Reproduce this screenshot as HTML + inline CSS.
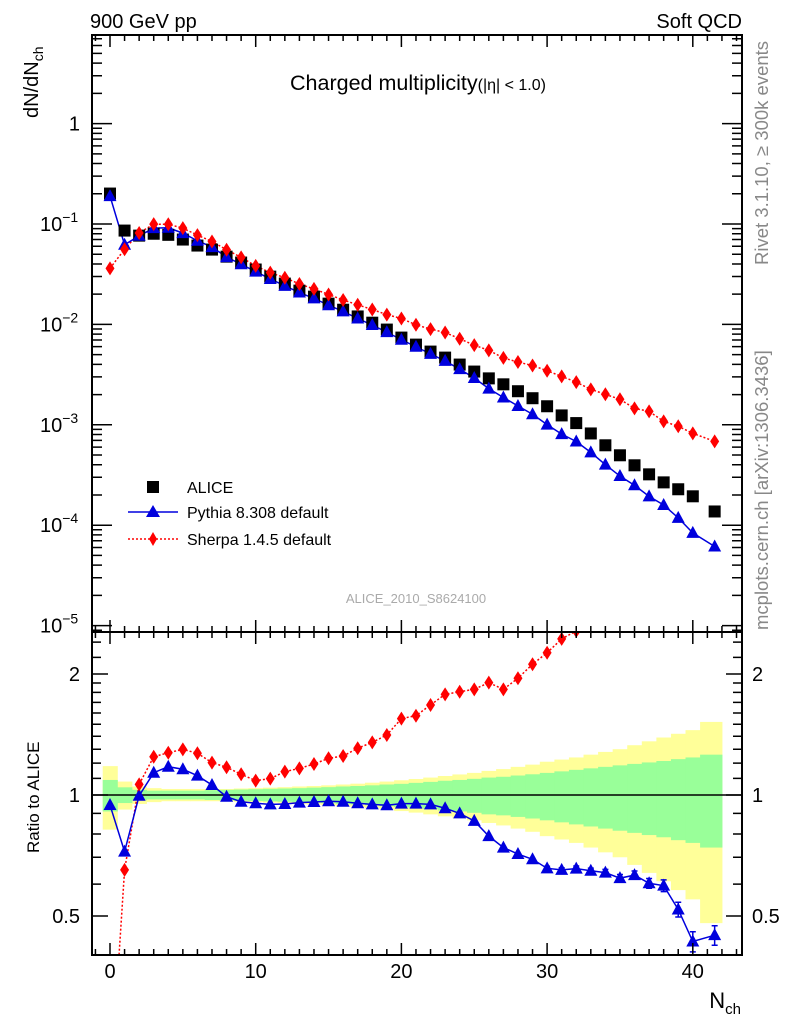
<!DOCTYPE html>
<html><head><meta charset="utf-8"><style>
html,body{margin:0;padding:0;background:#fff;width:786px;height:1024px;overflow:hidden;}
svg{display:block;font-family:"Liberation Sans",sans-serif;}
</style></head><body>
<svg id="chart" width="786" height="1024" viewBox="0 0 786 1024" xmlns="http://www.w3.org/2000/svg">
<defs>
<clipPath id="clipMain"><rect x="92" y="35" width="650" height="597"/></clipPath>
<clipPath id="clipRatio"><rect x="92" y="632" width="650" height="323"/></clipPath>
</defs>
<g id="bandLayer" clip-path="url(#clipRatio)"></g>
<g id="marks"></g>
<g id="axes"></g>
<text x="90" y="28" font-size="20">900 GeV pp</text>
<text x="742" y="28" font-size="20" text-anchor="end">Soft QCD</text>
<text x="418" y="90" font-size="21.5" text-anchor="middle">Charged multiplicity<tspan font-size="16">(|η| &lt; 1.0)</tspan></text>
<text transform="translate(38,118) rotate(-90)" font-size="20">dN/dN<tspan font-size="14" dy="5">ch</tspan></text>
<text transform="translate(39,853) rotate(-90)" font-size="17">Ratio to ALICE</text>
<text x="741" y="1008" font-size="22" text-anchor="end">N<tspan font-size="15" dy="6">ch</tspan></text>
<text transform="translate(768,265) rotate(-90)" font-size="18.5" fill="#888">Rivet 3.1.10, ≥ 300k events</text>
<text transform="translate(768,630) rotate(-90)" font-size="18.5" fill="#888">mcplots.cern.ch [arXiv:1306.3436]</text>
<text x="416" y="603" font-size="13" fill="#aaa" text-anchor="middle">ALICE_2010_S8624100</text>
<g>
<rect x="147" y="481" width="12" height="12" fill="#000"/>
<text x="187" y="493" font-size="16">ALICE</text>
<line x1="128" y1="512" x2="178" y2="512" stroke="#0000dd" stroke-width="1.5"/>
<polygon points="153,505 160,517 146,517" fill="#0000dd"/>
<text x="187" y="518" font-size="16">Pythia 8.308 default</text>
<line x1="128" y1="539" x2="178" y2="539" stroke="#f00" stroke-width="1.5" stroke-dasharray="2,2"/>
<polygon points="153,532 157,539 153,546 149,539" fill="#f00"/>
<text x="187" y="545" font-size="16">Sherpa 1.4.5 default</text>
</g>
</svg>
<script>
const nch = [0,1,2,3,4,5,6,7,8,9,10,11,12,13,14,15,16,17,18,19,20,21,22,23,24,25,26,27,28,29,30,31,32,33,34,35,36,37,38,39,40,41.5];
const binLo = [-0.5,0.5,1.5,2.5,3.5,4.5,5.5,6.5,7.5,8.5,9.5,10.5,11.5,12.5,13.5,14.5,15.5,16.5,17.5,18.5,19.5,20.5,21.5,22.5,23.5,24.5,25.5,26.5,27.5,28.5,29.5,30.5,31.5,32.5,33.5,34.5,35.5,36.5,37.5,38.5,39.5,40.5];
const binHi = [0.5,1.5,2.5,3.5,4.5,5.5,6.5,7.5,8.5,9.5,10.5,11.5,12.5,13.5,14.5,15.5,16.5,17.5,18.5,19.5,20.5,21.5,22.5,23.5,24.5,25.5,26.5,27.5,28.5,29.5,30.5,31.5,32.5,33.5,34.5,35.5,36.5,37.5,38.5,39.5,40.5,42];
const alice = [0.201,0.086,0.0766,0.080,0.078,0.070,0.061,0.0556,0.0473,0.0413,0.0352,0.0299,0.0255,0.0217,0.0189,0.0161,0.0140,0.0120,0.0104,0.00888,0.00739,0.00629,0.00536,0.00467,0.00398,0.00339,0.00290,0.00253,0.00216,0.00184,0.00153,0.00124,0.00104,0.00082,0.000625,0.000497,0.000395,0.000321,0.000267,0.000228,0.000194,0.000137];
const pythiaRatio = [0.944,0.723,0.996,1.136,1.176,1.159,1.117,1.059,0.99,0.962,0.954,0.948,0.95,0.957,0.961,0.965,0.962,0.954,0.948,0.943,0.952,0.952,0.948,0.927,0.900,0.862,0.79,0.74,0.713,0.692,0.657,0.651,0.656,0.648,0.641,0.621,0.632,0.603,0.595,0.519,0.432,0.448];
const pythiaErr = [0,0,0,0,0,0,0,0,0,0,0,0,0,0,0,0,0,0,0,0,0,0,0,0,0,0,0,0,0,0,0.008,0.008,0.01,0.01,0.012,0.013,0.015,0.017,0.02,0.022,0.025,0.025];
const sherpaRatio = [0.18,0.651,1.063,1.245,1.274,1.299,1.270,1.204,1.172,1.126,1.086,1.098,1.143,1.165,1.194,1.234,1.250,1.307,1.352,1.410,1.549,1.575,1.675,1.780,1.807,1.832,1.903,1.832,1.952,2.115,2.259,2.445,2.56,2.75,3.22,3.61,3.69,4.24,4.05,4.24,4.24,4.99];
const errTot = [0.18,0.08,0.05,0.04,0.035,0.035,0.035,0.035,0.035,0.038,0.04,0.043,0.046,0.05,0.053,0.057,0.062,0.067,0.073,0.08,0.088,0.096,0.105,0.115,0.125,0.135,0.148,0.16,0.175,0.19,0.21,0.225,0.24,0.26,0.28,0.30,0.33,0.36,0.39,0.42,0.45,0.52];
const errStat = [0.09,0.045,0.03,0.025,0.025,0.025,0.025,0.028,0.03,0.032,0.034,0.036,0.038,0.04,0.043,0.046,0.05,0.053,0.057,0.062,0.066,0.072,0.078,0.085,0.09,0.097,0.105,0.11,0.118,0.126,0.135,0.145,0.155,0.165,0.175,0.185,0.195,0.205,0.215,0.228,0.24,0.26];
const xTicks = [0,10,20,30,40];
const mainTickExp = [0,-1,-2,-3,-4,-5];
const ratioTickLabels = [0.5,1,2];

const NS='http://www.w3.org/2000/svg';
const X0=92,X1=742,MT=35,MB=632,RT=632,RB=955;
const sx = n => 110 + n*14.57;
const sy = v => 123.6 - Math.log10(v)*100.4;
const ry = r => 795 - Math.log2(r)*121;
const marks=document.getElementById('marks'), axes=document.getElementById('axes'), bandLayer=document.getElementById('bandLayer');
function mk(tag, attrs, parent){const e=document.createElementNS(NS,tag);for(const k in attrs)e.setAttribute(k,attrs[k]);parent.appendChild(e);return e;}

for(let i=0;i<nch.length;i++){
  const x=sx(binLo[i]), w=sx(binHi[i])-sx(binLo[i]);
  const y1=ry(1+errTot[i]), y2=ry(1-errTot[i]);
  const b=mk('rect',{x:x,y:y1,width:w+0.5,height:y2-y1,fill:'#ffff99'},bandLayer);
  
  
}
for(let i=0;i<nch.length;i++){
  const x=sx(binLo[i]), w=sx(binHi[i])-sx(binLo[i]);
  const y1=ry(1+errStat[i]), y2=ry(1-errStat[i]);
  const b=mk('rect',{x:x,y:y1,width:w+0.5,height:y2-y1,fill:'#99ff99'},bandLayer);
  
  
}
const ref=mk('line',{x1:X0,x2:X1,y1:ry(1),y2:ry(1),stroke:'#000','stroke-width':1.5},bandLayer);



const gMain=mk('g',{'clip-path':'url(#clipMain)'},marks);
const gRatio=mk('g',{'clip-path':'url(#clipRatio)'},marks);

function tri(g,x,y,color,name){const p=mk('polygon',{points:`${x},${y-7} ${x+6.5},${y+5} ${x-6.5},${y+5}`,fill:color},g);}
function dia(g,x,y,color,name){const p=mk('polygon',{points:`${x},${y-7} ${x+4.5},${y} ${x},${y+7} ${x-4.5},${y}`,fill:color},g);}

const pyVals = alice.map((a,i)=>a*pythiaRatio[i]);
const shVals = alice.map((a,i)=>a*sherpaRatio[i]);
let l=mk('polyline',{points:nch.map((n,i)=>sx(n)+','+sy(shVals[i])).join(' '),fill:'none',stroke:'#f00','stroke-width':1.5,'stroke-dasharray':'2,2'},gMain);


l=mk('polyline',{points:nch.map((n,i)=>sx(n)+','+sy(pyVals[i])).join(' '),fill:'none',stroke:'#0000dd','stroke-width':1.5},gMain);


nch.forEach((n,i)=>{
  const r=mk('rect',{x:sx(n)-6,y:sy(alice[i])-6,width:12,height:12,fill:'#000'},gMain);
  
  
});
nch.forEach((n,i)=>{ tri(gMain,sx(n),sy(pyVals[i]),'#0000dd','pythia-point'); });
nch.forEach((n,i)=>{ dia(gMain,sx(n),sy(shVals[i]),'#f00','sherpa-point'); });

l=mk('polyline',{points:nch.map((n,i)=>sx(n)+','+ry(sherpaRatio[i])).join(' '),fill:'none',stroke:'#f00','stroke-width':1.5,'stroke-dasharray':'2,2'},gRatio);


l=mk('polyline',{points:nch.map((n,i)=>sx(n)+','+ry(pythiaRatio[i])).join(' '),fill:'none',stroke:'#0000dd','stroke-width':1.5},gRatio);


nch.forEach((n,i)=>{
  if(pythiaErr[i]>0){
    const x=sx(n),a=ry(pythiaRatio[i]+pythiaErr[i]),b=ry(pythiaRatio[i]-pythiaErr[i]);
    const e=mk('path',{d:`M${x},${a}V${b}M${x-3},${a}H${x+3}M${x-3},${b}H${x+3}`,stroke:'#0000dd','stroke-width':1.5,fill:'none'},gRatio);
    
    
  }
  tri(gRatio,sx(n),ry(pythiaRatio[i]),'#0000dd','pythia-ratio-point');
});
nch.forEach((n,i)=>{ dia(gRatio,sx(n),ry(sherpaRatio[i]),'#f00','sherpa-ratio-point'); });

let f=mk('rect',{x:X0,y:MT,width:X1-X0,height:MB-MT,fill:'none',stroke:'#000','stroke-width':2},axes);


f=mk('rect',{x:X0,y:RT,width:X1-X0,height:RB-RT,fill:'none',stroke:'#000','stroke-width':2},axes);


let d='';
for(let n=-1;n<=43;n++){
  const x=sx(n); if(x<X0||x>X1) continue;
  const L = n%10===0?12:6;
  [[MT,1],[MB,-1],[RT,1],[RB,-1]].forEach(([y,s])=>{ d+=`M${x},${y}V${y+s*L}`; });
}
for(let e=-6;e<=1;e++){
  for(let m=1;m<10;m++){
    const y=sy(m*Math.pow(10,e)); if(y<MT||y>MB) continue;
    const L=m===1?20:10;
    d+=`M${X0},${y}H${X0+L}M${X1},${y}H${X1-L}`;
  }
}
const rt=[0.4,0.5,0.6,0.7,0.8,0.9,1,1.1,1.2,1.3,1.4,1.5,1.6,1.7,1.8,1.9,2,2.2,2.4];
rt.forEach(r=>{const y=ry(r); if(y<RT||y>RB) return; const L=(r===0.5||r===1||r===2)?16:9; d+=`M${X0},${y}H${X0+L}M${X1},${y}H${X1-L}`;});
const tk=mk('path',{d:d,stroke:'#000','stroke-width':1.5,fill:'none'},axes);


xTicks.forEach(n=>{
  const t=mk('text',{x:sx(n),y:978,'font-size':20,'text-anchor':'middle'},axes);
  t.textContent=n;
  
  
});
mainTickExp.forEach(e=>{
  const y=sy(Math.pow(10,e));
  const t=mk('text',{x:80,y:y+7,'font-size':20,'text-anchor':'end'},axes);
  if(e===0){t.textContent='1';}
  else{t.textContent='10';const s=mk('tspan',{'font-size':14,dy:-9},t);s.textContent='−'+(-e);t.setAttribute('text-anchor','start');t.setAttribute('x',40);}
  
  
});
ratioTickLabels.forEach(r=>{
  const y=ry(r)+7;
  let t=mk('text',{x:80,y:y,'font-size':20,'text-anchor':'end'},axes);
  t.textContent=String(r);
  
  
  t=mk('text',{x:752,y:y,'font-size':20},axes);
  t.textContent=String(r);
  
  
});
</script>
</body></html>
